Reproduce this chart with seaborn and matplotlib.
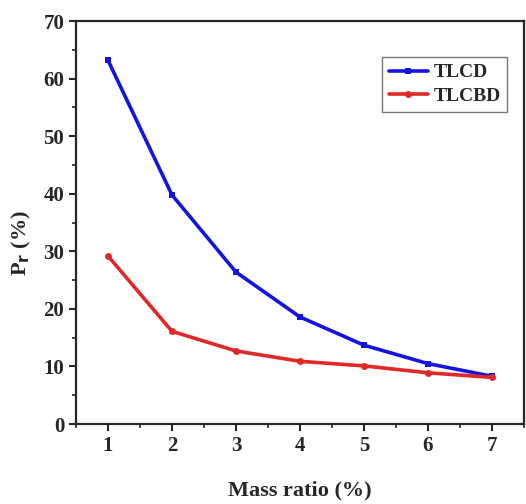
import matplotlib
matplotlib.use("Agg")
import matplotlib.pyplot as plt
import seaborn as sns
import pandas as pd
from matplotlib.ticker import MultipleLocator

mass_ratio = [1, 2, 3, 4, 5, 6, 7]
tlcd = [63.2, 39.8, 26.4, 18.6, 13.7, 10.5, 8.3]
tlcbd = [29.2, 16.1, 12.7, 10.9, 10.1, 8.9, 8.1]

df = pd.DataFrame({
    "Mass ratio": mass_ratio * 2,
    "Pr": tlcd + tlcbd,
    "Series": ["TLCD"] * len(tlcd) + ["TLCBD"] * len(tlcbd),
})

sns.set_style("ticks")
plt.rcParams['font.family'] = ['Liberation Serif', 'DejaVu Serif']
plt.rcParams['font.weight'] = 'bold'

fig = plt.figure(figsize=(5.26, 5.04), dpi=100)
ax = fig.add_axes([0.1445, 0.1587, 0.8515, 0.7993])

sns.lineplot(data=df, x="Mass ratio", y="Pr", hue="Series", style="Series",
             palette={"TLCD": "#1414e0", "TLCBD": "#e02828"},
             markers={"TLCD": "s", "TLCBD": "o"}, dashes=False,
             linewidth=2.6, markersize=5, markeredgewidth=0, ax=ax)

ax.set_xlim(0.5, 7.5)
ax.set_ylim(0, 70)
ax.xaxis.set_major_locator(MultipleLocator(1))
ax.xaxis.set_minor_locator(MultipleLocator(0.5))
ax.yaxis.set_major_locator(MultipleLocator(10))
ax.yaxis.set_minor_locator(MultipleLocator(5))
ax.tick_params(which='major', direction='out', length=5, width=1.5, labelsize=15)
ax.tick_params(which='minor', direction='out', length=3, width=1.2)
for lab in ax.get_xticklabels() + ax.get_yticklabels():
    lab.set_fontweight('bold')
for s in ax.spines.values():
    s.set_linewidth(1.6)

ax.set_xlabel("Mass ratio (%)", fontsize=16, fontweight='bold', labelpad=18)
ax.set_ylabel(r"P$_\mathbf{r}$ (%)", fontsize=16, fontweight='bold')
ax.yaxis.set_label_coords(-0.095, 0.45)

leg = ax.legend(loc='upper right', bbox_to_anchor=(0.985, 0.935), fontsize=14,
                frameon=True, fancybox=False, edgecolor='#555555',
                handlelength=2.0, handletextpad=0.3, borderpad=0.35,
                labelspacing=0.3)
leg.get_frame().set_linewidth(1.0)
for t in leg.get_texts():
    t.set_fontweight('bold')

fig.savefig("out.png", dpi=100)
